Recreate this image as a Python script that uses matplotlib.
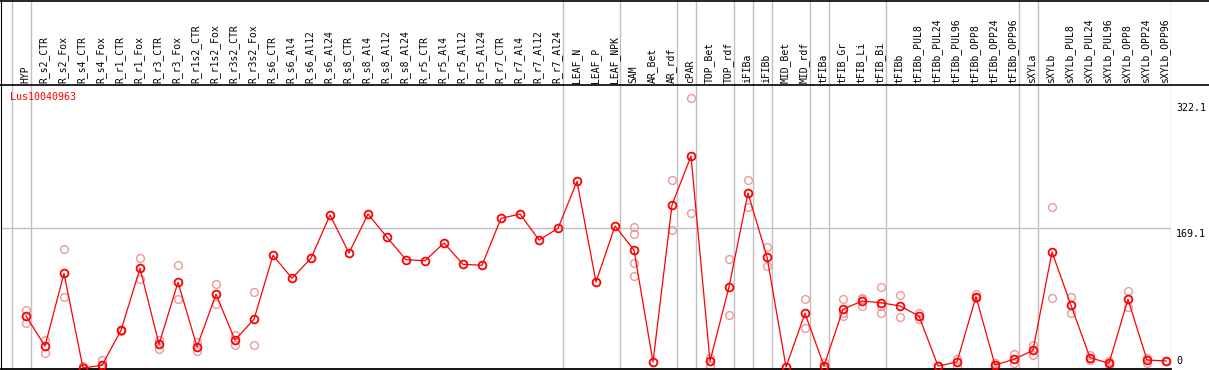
import numpy as np
import matplotlib
matplotlib.use("Agg")
import matplotlib.pyplot as plt
from matplotlib.lines import Line2D

# sample names (column headers)
samples = ["HYP", "R_s2_CTR", "R_s2_Fox", "R_s4_CTR", "R_s4_Fox", "R_r1_CTR", "R_r1_Fox",
           "R_r3_CTR", "R_r3_Fox", "R_r1s2_CTR", "R_r1s2_Fox", "R_r3s2_CTR", "R_r3s2_Fox",
           "R_s6_CTR", "R_s6_Al4", "R_s6_Al12", "R_s6_Al24", "R_s8_CTR", "R_s8_Al4",
           "R_s8_Al12", "R_s8_Al24", "R_r5_CTR", "R_r5_Al4", "R_r5_Al12", "R_r5_Al24",
           "R_r7_CTR", "R_r7_Al4", "R_r7_Al12", "R_r7_Al24", "LEAF_N", "LEAF_P", "LEAF_NPK",
           "SAM", "AR_Bet", "AR_rdf", "cPAR", "TOP_Bet", "TOP_rdf", "iFIBa", "iFIBb",
           "MID_Bet", "MID_rdf", "tFIBa", "tFIB_Gr", "tFIB_Li", "tFIB_Bi", "tFIBb",
           "tFIBb_PUL8", "tFIBb_PUL24", "tFIBb_PUL96", "tFIBb_OPP8", "tFIBb_OPP24",
           "tFIBb_OPP96", "sXYLa", "sXYLb", "sXYLb_PUL8", "sXYLb_PUL24", "sXYLb_PUL96",
           "sXYLb_OPP8", "sXYLb_OPP24", "sXYLb_OPP96"]

# mean expression per sample
means = [62.9, 26.6, 114.6, 0.0, 3.3, 45.6, 120.7, 28.7, 103.7, 25.8, 89.2, 33.9, 59.0,
         136.4, 108.6, 132.8, 185.2, 139.2, 186.4, 158.2, 131.1, 129.9, 151.3, 125.5, 124.3,
         181.2, 186.4, 154.9, 169.1, 226.0, 104.1, 171.9,
         142.8, 7.3, 197.3, 256.6, 8.1, 98.0, 211.8, 134.4, 1.2, 66.2,
         2.4, 71.1, 81.1, 79.0, 75.1, 62.9, 2.4, 7.3, 86.3, 3.6, 10.5,
         21.4, 140.4, 75.9, 12.5, 5.7, 83.2, 9.7, 8.5]

# individual replicates (empty where none are shown)
replicates = [[69.8, 54.1], [33.9, 18.5], [143.7, 85.6], [2.4, 1.0], [9.7, 0.2, 0.0],
              [45.0, 46.0], [132.8, 108.1], [33.9, 22.6], [124.3, 83.2], [31.5, 20.6],
              [101.3, 77.5], [39.6, 27.5], [91.6, 27.5],
              [], [], [], [], [], [], [], [], [], [], [], [], [], [], [], [], [], [], [],
              [170.3, 161.8, 126.7, 111.0], [], [227.2, 166.7], [326.5, 187.3],
              [12.5, 2.4], [131.9, 64.2], [227.2, 194.9], [146.5, 123.1], [], [83.2, 48.1],
              [7.3, 0.0, 0.0], [83.2, 66.9, 62.9], [83.9, 75.1, 84.2], [98.0, 75.1, 66.2],
              [88.0, 61.7], [66.9, 59.0], [2.0, 3.0], [11.3, 1.6], [89.2, 84.4], [6.4, 1.2],
              [16.6, 5.7], [27.5, 15.4], [194.9, 84.7], [85.6, 66.2], [15.4, 9.7],
              [8.1, 3.3], [93.2, 73.8], [12.5, 6.4], [8.5, 8.5]]

# group boundaries: separator drawn after these column indices
group_ends = [-1, 0, 28, 31, 34, 35, 37, 38, 39, 41, 42, 45, 52, 53, 60]

ytick_vals = [0, 169.1, 322.1]
gene = "Lus10040963"

W, H = 1209, 370
fig = plt.figure(figsize=(W / 100, H / 100), dpi=100)


def px_rect(x0, y0, x1, y1):
    return [x0 / W, 1 - y1 / H, (x1 - x0) / W, (y1 - y0) / H]


mono = "DejaVu Sans Mono"
grey = "#c0c0c0"
red = "#ff0000"
pink = "#eb9a9a"

ax = fig.add_axes(px_rect(1, 85, 1171, 369))
hd = fig.add_axes(px_rect(1, 0, 1171, 85), sharex=ax)

x = np.arange(len(samples))
xmin, xmax = (1 - 26) / 19, (1171 - 26) / 19
ax.set_xlim(xmin, xmax)
ax.set_ylim(-1.21, 342.6)
hd.set_ylim(0, 1)

# grid and separators
ax.axhline(169.1, color=grey, lw=1.0, zorder=0)
for g in group_ends:
    ax.axvline(g + 0.24, color=grey, lw=1.0, zorder=0)
    hd.axvline(g + 0.24, color=grey, lw=1.0, zorder=0)

# replicates
for i, reps in enumerate(replicates):
    if reps:
        ax.plot([x[i]] * len(reps), reps, "o", ms=5.6, mfc="none", mec=pink, mew=1.0,
                zorder=2)

# mean line
ax.plot(x, means, "-", color=red, lw=0.9, zorder=3)
ax.plot(x, means, "o", ms=5.6, mfc="none", mec=red, mew=1.3, zorder=4)

# column headers
for i, name in enumerate(samples):
    hd.text(x[i] - 0.05, 2 / 85, name, rotation=90, ha="center", va="bottom",
            fontsize=7, family=mono)

ax.text(9 / 1170, 1 - 12 / 284, gene, transform=ax.transAxes, color=red,
        fontsize=7.2, family=mono, va="center", ha="left")

# y value labels on the right
for v in ytick_vals:
    va = "bottom" if v == 0 else "top"
    ax.text(1.0045, v + (2 if v == 0 else -1), f"{v:g}", transform=ax.get_yaxis_transform(),
            fontsize=7.2, family=mono, ha="left", va=va, clip_on=False)

for a in (ax, hd):
    a.set_xticks([])
    a.set_yticks([])
    for s in a.spines.values():
        s.set_visible(False)
    a.spines["left"].set_visible(True)
    a.spines["left"].set_color("black")
ax.spines["bottom"].set_visible(True)
ax.spines["bottom"].set_color("black")
ax.spines["bottom"].set_linewidth(1.3)

# full-width horizontal rules at top and under the header
for ypx in (0.6, 85):
    fig.add_artist(Line2D([0, 1], [1 - ypx / H, 1 - ypx / H], color="black", lw=1.2))

fig.savefig("out.png", dpi=100)
